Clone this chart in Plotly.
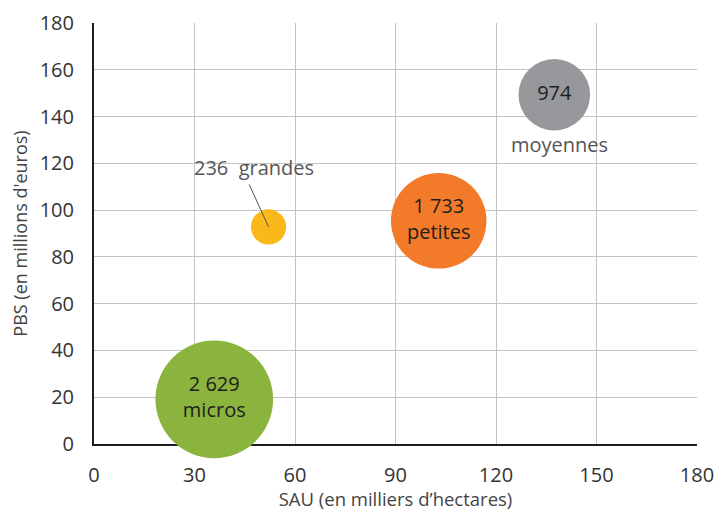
import plotly.graph_objects as go

categories = ["micros", "petites", "moyennes", "grandes"]
counts = [2629, 1733, 974, 236]
count_labels = ["2 629", "1 733", "974", "236"]
sau = [35.9, 102.9, 137.4, 52.1]
pbs = [19.1, 95.4, 149.3, 92.8]
colors = ["#8BB43E", "#F27A29", "#97989C", "#FBB81A"]

FONT = "Open Sans"
inside_text = [f"{count_labels[0]}<br>{categories[0]}", f"{count_labels[1]}<br>{categories[1]}", count_labels[2], ""]

fig = go.Figure()
fig.add_trace(go.Scatter(
    x=sau, y=pbs, mode="markers+text",
    text=inside_text, textposition="middle center",
    textfont=dict(family=FONT, size=20, color="#1e1e1e"),
    marker=dict(size=counts, sizemode="area", sizeref=0.38, color=colors, line=dict(width=0), opacity=1),
    cliponaxis=False, hoverinfo="skip", showlegend=False,
))

# label below moyennes
fig.add_annotation(x=sau[2], y=pbs[2], text=categories[2], showarrow=False,
                   yshift=-50, xshift=5, font=dict(family=FONT, size=20, color="#555555"))
# leader line for grandes
fig.add_annotation(x=sau[3], y=pbs[3], text="", showarrow=True, arrowhead=0,
                   arrowwidth=1, arrowcolor="#555555", ax=-20, ay=-44)
fig.add_annotation(x=sau[3], y=pbs[3], text=f"{count_labels[3]}&nbsp; {categories[3]}", showarrow=False,
                   xshift=-15, yshift=59, font=dict(family=FONT, size=20, color="#555555"))

axis_common = dict(range=[0, 180], showgrid=True, gridcolor="#c3c3c3", gridwidth=1,
                   zeroline=False, showline=True, linecolor="#1e1e1e", linewidth=2,
                   tickfont=dict(family=FONT, size=20, color="#333333"), layer="below traces",
                   ticks="", fixedrange=True, automargin=False)

fig.update_xaxes(**axis_common)
fig.update_yaxes(**axis_common)
fig.update_xaxes(tick0=0, dtick=30, ticklabelstandoff=12,
                 title=dict(text="SAU (en milliers d’hectares)", font=dict(family=FONT, size=18.5, color="#444444"), standoff=10))
fig.update_yaxes(tick0=0, dtick=20, ticklabelstandoff=14,
                 title=dict(text="PBS (en millions d'euros)", font=dict(family=FONT, size=18, color="#444444"), standoff=7))

fig.update_layout(
    width=717, height=511,
    margin=dict(l=94, r=20, t=23, b=67),
    plot_bgcolor="white", paper_bgcolor="white",
    font=dict(family=FONT),
)

fig.write_html("out.html", post_script="document.body.style.margin='0';",
               config={"displayModeBar": False, "staticPlot": True})
